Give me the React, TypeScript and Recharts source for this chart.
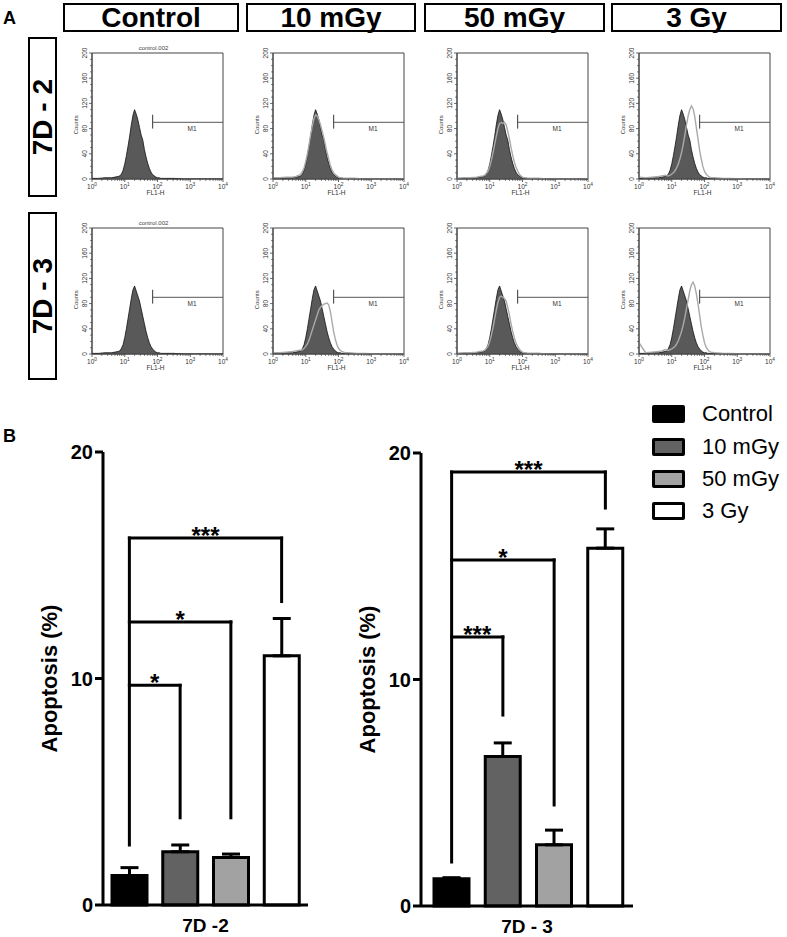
import React from 'react';
import {
  ComposedChart,
  Area,
  Line,
  XAxis,
  YAxis,
  ReferenceArea,
  ReferenceLine,
  BarChart,
  Bar,
  Cell,
  ErrorBar,
} from 'recharts';

const FONT = '"Liberation Sans", Arial, Helvetica, sans-serif';

// ---------------- Panel A data ----------------
const doseLabels = ['Control', '10 mGy', '50 mGy', '3 Gy'];
const rowLabels = ['7D - 2', '7D - 3'];
// FL1-H positions in decades (log10 of fluorescence)
const flLogX = [0, 0.2, 0.4, 0.6, 0.7, 0.8, 0.85, 0.9, 0.95, 1.0, 1.05, 1.1, 1.15, 1.2, 1.25, 1.3, 1.35, 1.4, 1.45, 1.5, 1.55, 1.6, 1.65, 1.7, 1.75, 1.8, 1.85, 1.9, 1.95, 2.0, 2.05, 2.1, 2.15, 2.2, 2.3, 2.5, 2.8, 3.2, 3.6, 4.0];
const control7D2 = [1, 1, 2, 2, 3, 4, 5, 8, 14, 24, 37, 52, 68, 86, 101, 110, 103, 94, 82, 70, 62, 47, 35, 25, 17, 11, 7, 5, 3, 2, 2, 1, 1, 1, 1, 1, 0, 0, 0, 0];
const control7D3 = [1, 1, 2, 2, 3, 4, 5, 9, 15, 26, 40, 56, 72, 88, 102, 108, 100, 92, 84, 72, 60, 48, 36, 26, 18, 12, 8, 5, 3, 2, 2, 1, 1, 1, 1, 1, 0, 0, 0, 0];
const dose10_7D2 = [2, 2, 3, 3, 4, 6, 8, 12, 18, 28, 40, 54, 70, 84, 96, 102, 100, 94, 86, 76, 66, 54, 42, 32, 22, 15, 10, 7, 5, 3, 2, 2, 1, 1, 1, 1, 0, 0, 0, 0];
const dose50_7D2 = [1, 2, 2, 3, 4, 5, 6, 9, 13, 20, 30, 42, 55, 68, 80, 88, 90, 88, 90, 86, 76, 64, 50, 38, 27, 19, 13, 8, 5, 3, 2, 2, 1, 1, 1, 1, 0, 0, 0, 0];
const dose3_7D2 = [3, 2, 3, 4, 5, 6, 5, 5, 6, 8, 10, 13, 18, 24, 32, 42, 55, 70, 86, 100, 110, 116, 112, 100, 82, 64, 46, 32, 20, 12, 8, 5, 3, 2, 2, 1, 1, 0, 0, 0];
const dose10_7D3 = [2, 2, 3, 4, 5, 6, 6, 7, 9, 12, 16, 22, 30, 38, 46, 54, 62, 70, 74, 77, 79, 80, 81, 78, 68, 52, 36, 24, 15, 9, 6, 4, 3, 2, 2, 1, 1, 0, 0, 0];
const dose50_7D3 = [1, 2, 2, 3, 4, 5, 6, 9, 13, 20, 30, 42, 56, 70, 82, 90, 92, 90, 88, 84, 74, 62, 48, 36, 26, 18, 12, 8, 5, 3, 2, 2, 1, 1, 1, 1, 0, 0, 0, 0];
const dose3_7D3 = [18, 2, 3, 4, 5, 7, 6, 6, 7, 8, 10, 12, 16, 21, 28, 36, 46, 58, 72, 86, 100, 110, 114, 108, 96, 80, 62, 44, 30, 18, 11, 7, 4, 3, 2, 1, 1, 0, 0, 0];
const countMajorTicks = [0, 40, 80, 120, 160, 200];
const decadeTicks = [0, 1, 2, 3, 4];
const decadeLabels = ['0', '1', '2', '3', '4'];
const m1Start = 1.85;
const m1Level = 90;
const m1Label = 'M1';
const controlFileLabel = 'control.002';

const rowControls = [control7D2, control7D3];
const rowTreated = [
  [null, dose10_7D2, dose50_7D2, dose3_7D2],
  [null, dose10_7D3, dose50_7D3, dose3_7D3],
];

// axis tick positions (minor log ticks and minor count ticks)
const countTicks = Array.from({ length: 21 }, (_, i) => i * 10);
const minorFactors = [2, 3, 4, 5, 6, 7, 8, 9];
const flTicks = [
  ...decadeTicks,
  ...decadeTicks.slice(0, 4).flatMap((d) => minorFactors.map((k) => d + Math.log10(k))),
];

// ---------------- Panel B data ----------------
const groups = ['Control', '10 mGy', '50 mGy', '3 Gy'];
const groupFills = ['#000000', '#626262', '#a2a2a2', '#ffffff'];
const apoptosis7D2 = [1.3, 2.35, 2.1, 11.0];
const sem7D2 = [0.35, 0.3, 0.15, 1.65];
const apoptosis7D3 = [1.2, 6.6, 2.7, 15.8];
const sem7D3 = [0.05, 0.6, 0.65, 0.85];
const yTicksB = [0, 10, 20];
const brackets7D2 = [
  { to: '10 mGy', level: 9.7, drop: 3.85, stars: '*' },
  { to: '50 mGy', level: 12.5, drop: 3.85, stars: '*' },
  { to: '3 Gy', level: 16.2, drop: 13.4, stars: '***' },
];
const stem7D2 = 2.65;
const brackets7D3 = [
  { to: '10 mGy', level: 11.88, drop: 8.43, stars: '***' },
  { to: '50 mGy', level: 15.28, drop: 4.46, stars: '*' },
  { to: '3 Gy', level: 19.16, drop: 17.57, stars: '***' },
];
const stem7D3 = 1.94;

// ---------------- Histogram panel ----------------
const HIST_W = 131;
const HIST_H = 126;
const colLefts = [92, 273, 457, 639];
const rowTops = [53, 228];
const HC = '#454545';

const HistXTick = (props: any) => {
  const { x, y, payload } = props;
  const v = payload.value;
  const major = Math.abs(v - Math.round(v)) < 1e-6;
  return (
    <g>
      <line x1={x} x2={x} y1={y} y2={y + (major ? 3 : 1.8)} stroke={HC} strokeWidth={0.8} />
      {major && (
        <text x={x} y={y + 10} textAnchor="middle" fontSize={6.5} fill="#333" fontFamily={FONT}>
          10
          <tspan dy={-3} fontSize={4.8}>
            {decadeLabels[Math.round(v)]}
          </tspan>
        </text>
      )}
    </g>
  );
};

const HistYTick = (props: any) => {
  const { x, y, payload } = props;
  const v = payload.value;
  const major = countMajorTicks.includes(v);
  return (
    <g>
      <line x1={x - (major ? 3 : 1.8)} x2={x} y1={y} y2={y} stroke={HC} strokeWidth={0.8} />
      {major && (
        <text
          x={x - 7}
          y={y}
          dy="0.35em"
          transform={`rotate(-90, ${x - 7}, ${y})`}
          textAnchor="middle"
          fontSize={6.5}
          fill="#333"
          fontFamily={FONT}
        >
          {v}
        </text>
      )}
    </g>
  );
};

const countsLabel = (props: any) => {
  const vb = props.viewBox || { x: 18, y: 16, width: 22, height: HIST_H };
  const x = vb.x + vb.width - 16;
  const y = vb.y + vb.height * 0.57;
  return (
    <text x={x} y={y} dy="0.35em" transform={`rotate(-90, ${x}, ${y})`} textAnchor="middle" fontSize={6} fill="#333" fontFamily={FONT}>
      Counts
    </text>
  );
};

const flLabel = (props: any) => {
  const vb = props.viewBox || { x: 40, y: 142, width: HIST_W, height: 24 };
  return (
    <text x={vb.x + vb.width / 2 - 2} y={vb.y + 16} textAnchor="middle" fontSize={6.5} fill="#333" fontFamily={FONT}>
      FL1-H
    </text>
  );
};

const m1Text = (props: any) => {
  const vb = props.viewBox || { x: 0, y: 0, width: 0, height: 0 };
  return (
    <text x={vb.x + vb.width * 0.56} y={vb.y + 9} textAnchor="middle" fontSize={6.5} fill="#333" fontFamily={FONT}>
      {m1Label}
    </text>
  );
};

const titleText = (props: any) => {
  const vb = props.viewBox || { x: 0, y: 0, width: 0, height: 0 };
  return (
    <text x={vb.x + vb.width / 2 - 4} y={vb.y - 3} textAnchor="middle" fontSize={6} fill="#444" fontFamily={FONT}>
      {controlFileLabel}
    </text>
  );
};

function Histogram({ left, top, ctrl, treated, showTitle }: any) {
  const ML = 40;
  const MT = 16;
  const data = flLogX.map((x, i) => ({ x, c: ctrl[i], t: treated ? treated[i] : null }));
  return (
    <div style={{ position: 'absolute', left: left - ML, top: top - MT }}>
      <ComposedChart
        width={ML + HIST_W + 12}
        height={MT + HIST_H + 30}
        data={data}
        margin={{ top: MT, right: 12, bottom: 6, left: ML - 22 }}
      >
        <XAxis
          dataKey="x"
          type="number"
          domain={[0, 4]}
          ticks={flTicks}
          interval={0}
          tick={HistXTick}
          tickLine={false}
          tickSize={0}
          tickMargin={0}
          height={24}
          axisLine={{ stroke: HC, strokeWidth: 1 }}
          allowDataOverflow
          label={flLabel}
        />
        <YAxis
          type="number"
          domain={[0, 200]}
          ticks={countTicks}
          interval={0}
          tick={HistYTick}
          tickLine={false}
          tickSize={0}
          tickMargin={0}
          width={22}
          axisLine={{ stroke: HC, strokeWidth: 1 }}
          allowDataOverflow
          label={countsLabel}
        />
        <ReferenceArea
          x1={0}
          x2={4}
          y1={0}
          y2={200}
          fill="none"
          fillOpacity={0}
          stroke={HC}
          strokeWidth={1}
          ifOverflow="visible"
          label={showTitle ? titleText : undefined}
        />
        <Area
          type="linear"
          dataKey="c"
          fill="#595959"
          fillOpacity={1}
          stroke="#111"
          strokeWidth={0.8}
          dot={false}
          activeDot={false}
          isAnimationActive={false}
        />
        {treated && (
          <Line
            type="linear"
            dataKey="t"
            stroke="#a9a9a9"
            strokeWidth={1.4}
            dot={false}
            activeDot={false}
            isAnimationActive={false}
          />
        )}
        <ReferenceLine
          segment={[
            { x: m1Start, y: m1Level },
            { x: 4, y: m1Level },
          ]}
          stroke="#555"
          strokeWidth={1}
          ifOverflow="visible"
          label={m1Text}
        />
        <ReferenceLine
          segment={[
            { x: m1Start, y: m1Level - 10 },
            { x: m1Start, y: m1Level + 12 },
          ]}
          stroke="#555"
          strokeWidth={1.2}
          ifOverflow="visible"
        />
      </ComposedChart>
    </div>
  );
}

// ---------------- Bar panel ----------------
const starContent = (stars: string) => (props: any) => {
  const vb = props.viewBox || { x: 0, y: 0, width: 0, height: 0 };
  return (
    <text x={vb.x + vb.width / 2} y={vb.y + 6} textAnchor="middle" fontSize={24} fontWeight="bold" fill="#000" fontFamily={FONT}>
      {stars}
    </text>
  );
};

const yTitle = (props: any) => {
  const vb = props.viewBox || { x: 0, y: 0, width: 60, height: 450 };
  const x = vb.x + 14;
  const y = vb.y + vb.height / 2;
  return (
    <text x={x} y={y} transform={`rotate(-90, ${x}, ${y})`} textAnchor="middle" fontSize={22} fontWeight="bold" fill="#000" fontFamily={FONT}>
      Apoptosis (%)
    </text>
  );
};

const xTitle = (text: string) => (props: any) => {
  const vb = props.viewBox || { x: 0, y: 0, width: 0, height: 30 };
  return (
    <text x={vb.x + vb.width / 2} y={vb.y + 27} textAnchor="middle" fontSize={19} fontWeight="bold" fill="#000" fontFamily={FONT}>
      {text}
    </text>
  );
};

function BarPanel({ left, top, width, height, margin, values, sems, brackets, stem, xLabel, padding }: any) {
  const data = groups.map((g, i) => ({ group: g, value: values[i], err: [0, sems[i]] }));
  const topLevel = Math.max(...brackets.map((b: any) => b.level));
  const lineProps = { stroke: '#000', strokeWidth: 3, strokeLinecap: 'square' as const, ifOverflow: 'visible' as const };
  return (
    <div style={{ position: 'absolute', left, top }}>
      <BarChart width={width} height={height} data={data} margin={margin}>
        <XAxis
          dataKey="group"
          type="category"
          tick={false}
          tickLine={false}
          axisLine={{ stroke: '#000', strokeWidth: 3 }}
          height={30}
          padding={padding}
          label={xTitle(xLabel)}
        />
        <YAxis
          type="number"
          domain={[0, 20]}
          ticks={yTicksB}
          interval={0}
          width={60}
          axisLine={{ stroke: '#000', strokeWidth: 3 }}
          tickLine={{ stroke: '#000', strokeWidth: 3 }}
          tickSize={8}
          tickMargin={2}
          tick={{ fontSize: 20, fontWeight: 'bold', fill: '#000', fontFamily: FONT }}
          label={yTitle}
        />
        <Bar dataKey="value" barSize={35} stroke="#000" strokeWidth={3} isAnimationActive={false}>
          {data.map((d, i) => (
            <Cell key={d.group} fill={groupFills[i]} />
          ))}
          <ErrorBar dataKey="err" direction="y" width={9} stroke="#000" strokeWidth={3} isAnimationActive={false} />
        </Bar>
        {brackets.map((b: any) => (
          <ReferenceLine
            key={'h' + b.to}
            segment={[
              { x: 'Control', y: b.level },
              { x: b.to, y: b.level },
            ]}
            {...lineProps}
            label={starContent(b.stars)}
          />
        ))}
        {brackets.map((b: any) => (
          <ReferenceLine
            key={'v' + b.to}
            segment={[
              { x: b.to, y: b.level },
              { x: b.to, y: b.drop },
            ]}
            {...lineProps}
          />
        ))}
        <ReferenceLine
          segment={[
            { x: 'Control', y: topLevel },
            { x: 'Control', y: stem },
          ]}
          {...lineProps}
        />
      </BarChart>
    </div>
  );
}

// ---------------- Layout ----------------
const headerBoxes = [
  { left: 63, width: 176 },
  { left: 246, width: 170 },
  { left: 424, width: 181 },
  { left: 611, width: 171 },
];
const rowBoxes = [
  { top: 37, height: 160 },
  { top: 212, height: 168 },
];

export default function App() {
  return (
    <div
      style={{
        position: 'absolute',
        left: 0,
        top: 0,
        width: 787,
        height: 937,
        background: '#fff',
        fontFamily: FONT,
        overflow: 'hidden',
      }}
    >
      <div style={{ position: 'absolute', left: 3, top: 9, fontSize: 18, lineHeight: '18px', fontWeight: 'bold' }}>A</div>
      <div style={{ position: 'absolute', left: 3, top: 427, fontSize: 18, lineHeight: '18px', fontWeight: 'bold' }}>B</div>

      {doseLabels.map((d, i) => (
        <div
          key={d}
          style={{
            position: 'absolute',
            left: headerBoxes[i].left,
            top: 3,
            width: headerBoxes[i].width,
            height: 29,
            boxSizing: 'border-box',
            border: '2px solid #000',
            fontSize: 28,
            fontWeight: 'bold',
            lineHeight: '25px',
            textAlign: 'center',
            whiteSpace: 'nowrap',
          }}
        >
          {d}
        </div>
      ))}

      {rowLabels.map((r, i) => (
        <div
          key={r}
          style={{
            position: 'absolute',
            left: 28,
            top: rowBoxes[i].top,
            width: 29,
            height: rowBoxes[i].height,
            boxSizing: 'border-box',
            border: '2px solid #000',
            display: 'flex',
            alignItems: 'center',
            justifyContent: 'center',
          }}
        >
          <span
            style={{
              writingMode: 'vertical-rl',
              transform: 'rotate(180deg)',
              fontSize: 28,
              fontWeight: 'bold',
              lineHeight: '25px',
              whiteSpace: 'nowrap',
            }}
          >
            {r}
          </span>
        </div>
      ))}

      {rowTops.map((t, r) =>
        colLefts.map((l, c) => (
          <Histogram
            key={`${r}-${c}`}
            left={l}
            top={t}
            ctrl={rowControls[r]}
            treated={rowTreated[r][c]}
            showTitle={c === 0}
          />
        ))
      )}

      <BarPanel
        left={0}
        top={420}
        width={330}
        height={517}
        margin={{ top: 32, right: 22, bottom: 2, left: 43 }}
        values={apoptosis7D2}
        sems={sem7D2}
        brackets={brackets7D2}
        stem={stem7D2}
        xLabel="7D -2"
        padding={{ left: 1, right: 1 }}
      />
      <BarPanel
        left={330}
        top={420}
        width={457}
        height={517}
        margin={{ top: 33, right: 154, bottom: 1, left: 31 }}
        values={apoptosis7D3}
        sems={sem7D3}
        brackets={brackets7D3}
        stem={stem7D3}
        xLabel="7D - 3"
        padding={{ left: 5, right: 2 }}
      />

      <div style={{ position: 'absolute', left: 652, top: 398 }}>
        {groups.map((g, i) => (
          <div key={g} style={{ display: 'flex', alignItems: 'center', height: 32.4 }}>
            <div
              style={{
                width: 33,
                height: 18,
                boxSizing: 'border-box',
                border: '3px solid #000',
                borderRadius: 2,
                background: groupFills[i],
              }}
            />
            <span style={{ marginLeft: 17, fontSize: 22, lineHeight: '22px', whiteSpace: 'nowrap' }}>{g}</span>
          </div>
        ))}
      </div>
    </div>
  );
}
